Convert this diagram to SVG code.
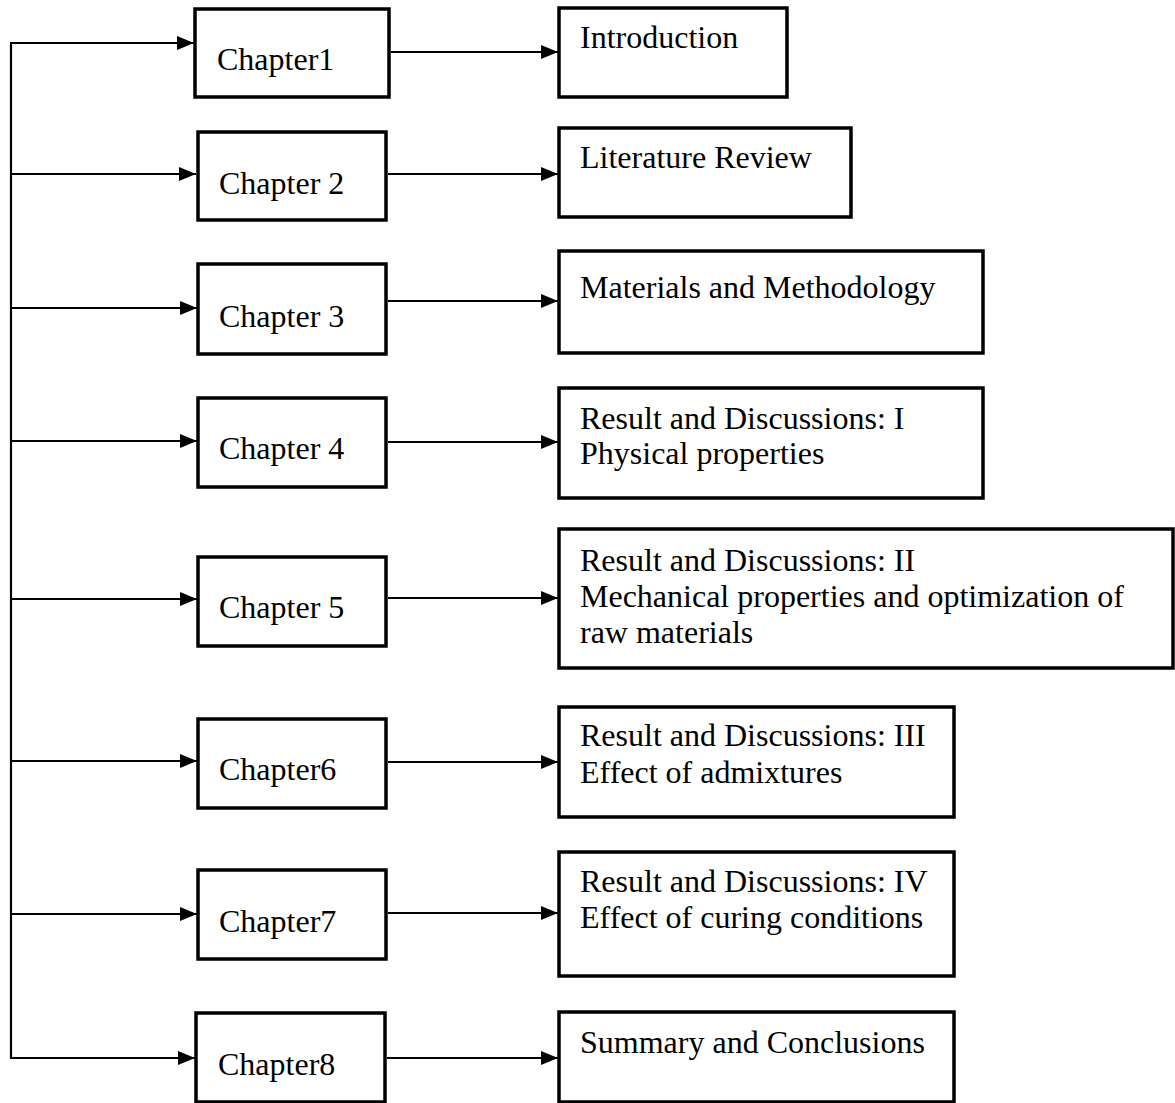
<svg xmlns="http://www.w3.org/2000/svg" width="1175" height="1103" viewBox="0 0 1175 1103">
<style>
.box{fill:#fff;stroke:#000;stroke-width:3.5}
.t{font-family:"Liberation Serif","Times New Roman",serif;font-size:32px;fill:#000}
.c{fill:none;stroke:#000;stroke-width:2.2}
</style>
<defs>
<marker id="ah" markerUnits="userSpaceOnUse" markerWidth="18" markerHeight="14" refX="17" refY="7" orient="auto">
<path d="M0,0 L17,7 L0,14 Z" fill="#000"/>
</marker>
</defs>
<g id="connectors">
<path class="c" d="M11,43 V1058"/>
<path class="c" d="M10,43 H194" marker-end="url(#ah)"/>
<path class="c" d="M10,174 H196" marker-end="url(#ah)"/>
<path class="c" d="M10,308 H197" marker-end="url(#ah)"/>
<path class="c" d="M10,441 H197" marker-end="url(#ah)"/>
<path class="c" d="M10,599 H197" marker-end="url(#ah)"/>
<path class="c" d="M10,761 H197" marker-end="url(#ah)"/>
<path class="c" d="M10,914 H197" marker-end="url(#ah)"/>
<path class="c" d="M10,1058 H195" marker-end="url(#ah)"/>
<path class="c" d="M391,52 H558" marker-end="url(#ah)"/>
<path class="c" d="M388,174 H558" marker-end="url(#ah)"/>
<path class="c" d="M388,301 H558" marker-end="url(#ah)"/>
<path class="c" d="M388,442 H558" marker-end="url(#ah)"/>
<path class="c" d="M388,598 H558" marker-end="url(#ah)"/>
<path class="c" d="M388,762 H558" marker-end="url(#ah)"/>
<path class="c" d="M388,913 H558" marker-end="url(#ah)"/>
<path class="c" d="M387,1058 H558" marker-end="url(#ah)"/>
</g>
<g id="ch1"><rect class="box" x="195" y="9" width="194" height="88"/><text class="t" x="217" y="70">Chapter1</text></g>
<g id="ch2"><rect class="box" x="198" y="132" width="188" height="88"/><text class="t" x="219" y="194">Chapter 2</text></g>
<g id="ch3"><rect class="box" x="198" y="264" width="188" height="90"/><text class="t" x="219" y="327">Chapter 3</text></g>
<g id="ch4"><rect class="box" x="198" y="398" width="188" height="89"/><text class="t" x="219" y="459">Chapter 4</text></g>
<g id="ch5"><rect class="box" x="198" y="557" width="188" height="89"/><text class="t" x="219" y="618">Chapter 5</text></g>
<g id="ch6"><rect class="box" x="198" y="719" width="188" height="89"/><text class="t" x="219" y="780">Chapter6</text></g>
<g id="ch7"><rect class="box" x="198" y="870" width="188" height="89"/><text class="t" x="219" y="932">Chapter7</text></g>
<g id="ch8"><rect class="box" x="196" y="1013" width="189" height="89"/><text class="t" x="218" y="1075">Chapter8</text></g>
<g id="intro"><rect class="box" x="559" y="8" width="228" height="89"/><text class="t" x="580" y="48">Introduction</text></g>
<g id="lit"><rect class="box" x="559" y="128" width="292" height="89"/><text class="t" x="580" y="168">Literature Review</text></g>
<g id="mat"><rect class="box" x="559" y="251" width="424" height="102"/><text class="t" x="580" y="298">Materials and Methodology</text></g>
<g id="rd1"><rect class="box" x="559" y="388" width="424" height="110"/><text class="t" x="580" y="429">Result and Discussions: I</text><text class="t" x="580" y="464">Physical properties</text></g>
<g id="rd2"><rect class="box" x="559" y="529" width="614" height="139"/><text class="t" x="580" y="571">Result and Discussions: II</text><text class="t" x="580" y="607">Mechanical properties and optimization of</text><text class="t" x="580" y="643">raw materials</text></g>
<g id="rd3"><rect class="box" x="559" y="707" width="395" height="110"/><text class="t" x="580" y="746">Result and Discussions: III</text><text class="t" x="580" y="783">Effect of admixtures</text></g>
<g id="rd4"><rect class="box" x="559" y="852" width="395" height="124"/><text class="t" x="580" y="892">Result and Discussions: IV</text><text class="t" x="580" y="928">Effect of curing conditions</text></g>
<g id="sum"><rect class="box" x="559" y="1012" width="395" height="90"/><text class="t" x="580" y="1053">Summary and Conclusions</text></g>
</svg>
